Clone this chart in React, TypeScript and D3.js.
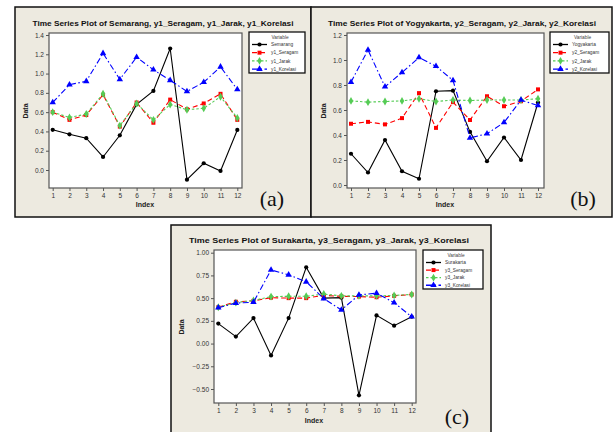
import React, { useRef, useEffect } from 'react';
import * as d3 from 'd3';

// ---- data ----
const indexes = [1, 2, 3, 4, 5, 6, 7, 8, 9, 10, 11, 12];

const semarang = [0.417, 0.37, 0.33, 0.135, 0.36, 0.68, 0.82, 1.26, -0.1, 0.07, -0.01, 0.415];
const y1Seragam = [0.6, 0.52, 0.57, 0.78, 0.45, 0.7, 0.49, 0.73, 0.63, 0.69, 0.79, 0.52];
const y1Jarak = [0.6, 0.545, 0.58, 0.79, 0.46, 0.69, 0.52, 0.68, 0.625, 0.64, 0.76, 0.54];
const y1Korelasi = [0.7, 0.885, 0.92, 1.21, 0.94, 1.17, 1.04, 0.93, 0.815, 0.91, 1.07, 0.835];

const yogyakarta = [0.25, 0.1, 0.36, 0.11, 0.05, 0.75, 0.755, 0.425, 0.19, 0.38, 0.2, 0.66];
const y2Seragam = [0.49, 0.505, 0.485, 0.535, 0.735, 0.457, 0.663, 0.52, 0.71, 0.63, 0.67, 0.765];
const y2Jarak = [0.673, 0.663, 0.668, 0.673, 0.69, 0.668, 0.68, 0.676, 0.68, 0.68, 0.68, 0.69];
const y2Korelasi = [0.823, 1.08, 0.786, 0.9, 1.02, 0.95, 0.837, 0.377, 0.41, 0.5, 0.68, 0.636];

const surakarta = [0.22, 0.077, 0.28, -0.13, 0.28, 0.84, 0.5, 0.505, -0.57, 0.31, 0.197, 0.295];
const y3Seragam = [0.4, 0.46, 0.47, 0.505, 0.5, 0.5, 0.53, 0.52, 0.517, 0.51, 0.525, 0.54];
const y3Jarak = [0.4, 0.45, 0.475, 0.517, 0.52, 0.52, 0.545, 0.525, 0.525, 0.525, 0.53, 0.54];
const y3Korelasi = [0.395, 0.445, 0.455, 0.81, 0.757, 0.68, 0.495, 0.37, 0.535, 0.555, 0.45, 0.295];

const yTicksA = [0.0, 0.2, 0.4, 0.6, 0.8, 1.0, 1.2, 1.4];
const yTicksB = [0.0, 0.2, 0.4, 0.6, 0.8, 1.0, 1.2];
const yTicksC = [-0.5, -0.25, 0, 0.25, 0.5, 0.75, 1.0];

// series styles (Minitab defaults)
const styles = [
  { color: '#000000', dash: null, symbol: d3.symbolCircle, size: 14 },
  { color: '#ff0000', dash: '5,3', symbol: d3.symbolSquare, size: 16 },
  { color: '#55cc55', dash: '2.5,2', symbol: d3.symbolDiamond, size: 18 },
  { color: '#0000ff', dash: '6,2.5,1.5,2.5', symbol: d3.symbolTriangle, size: 18 },
];

const panels = [
  {
    title: 'Time Series Plot of Semarang, y1_Seragam, y1_Jarak, y1_Korelasi',
    names: ['Semarang', 'y1_Seragam', 'y1_Jarak', 'y1_Korelasi'],
    series: [semarang, y1Seragam, y1Jarak, y1Korelasi],
    yTicks: yTicksA, fmt: '.1f', tag: '(a)',
    box: { x: 15, y: 7, w: 296, h: 210 },
    plot: { x0: 49, x1: 242, y0: 33, y1: 188 },
    xr: [52.7, 237.3], yd: [0, 1.4], yr: [170, 35],
    title_x: 163, title_y: 26, title_w: 261,
    legend: { x: 249, y: 32, w: 56, h: 41 },
    dataX: 28, dataY: 111, indexX: 145, indexY: 207, tagX: 272, tagY: 206,
  },
  {
    title: 'Time Series Plot of Yogyakarta, y2_Seragam, y2_Jarak, y2_Korelasi',
    names: ['Yogyakarta', 'y2_Seragam', 'y2_Jarak', 'y2_Korelasi'],
    series: [yogyakarta, y2Seragam, y2Jarak, y2Korelasi],
    yTicks: yTicksB, fmt: '.1f', tag: '(b)',
    box: { x: 311, y: 7, w: 301, h: 210 },
    plot: { x0: 347, x1: 544, y0: 33, y1: 188 },
    xr: [351, 538], yd: [0, 1.2], yr: [185, 35],
    title_x: 462, title_y: 26, title_w: 268,
    legend: { x: 550, y: 32, w: 59, h: 41 },
    dataX: 326, dataY: 111, indexX: 445, indexY: 207, tagX: 583, tagY: 206,
  },
  {
    title: 'Time Series Plot of Surakarta, y3_Seragam, y3_Jarak, y3_Korelasi',
    names: ['Surakarta', 'y3_Seragam', 'y3_Jarak', 'y3_Korelasi'],
    series: [surakarta, y3Seragam, y3Jarak, y3Korelasi],
    yTicks: yTicksC, fmt: '.2f', tag: '(c)',
    box: { x: 171, y: 225, w: 320, h: 215 },
    plot: { x0: 214, x1: 416, y0: 250, y1: 403 },
    xr: [218.3, 411.7], yd: [-0.5, 1.0], yr: [389, 252.7],
    title_x: 329, title_y: 243, title_w: 280,
    legend: { x: 423, y: 250, w: 60, h: 39 },
    dataX: 184, dataY: 327, indexX: 314, indexY: 423, tagX: 457, tagY: 424,
  },
];

const Panel = ({ p }: { p: any }) => {
  const xAxisRef = useRef<SVGGElement>(null);
  const yAxisRef = useRef<SVGGElement>(null);

  const x = d3.scaleLinear().domain([1, 12]).range(p.xr);
  const y = d3.scaleLinear().domain(p.yd).range(p.yr);

  useEffect(() => {
    const xa = d3.select(xAxisRef.current);
    xa.selectAll('*').remove();
    xa.call(d3.axisBottom(x).tickValues(indexes).tickFormat(d3.format('d')).tickSize(3).tickPadding(2));
    const ya = d3.select(yAxisRef.current);
    ya.selectAll('*').remove();
    ya.call(d3.axisLeft(y).tickValues(p.yTicks).tickFormat(d3.format(p.fmt)).tickSize(3).tickPadding(2));
    [xa, ya].forEach((a) => {
      a.select('.domain').remove();
      a.selectAll('line').attr('stroke', '#555');
      a.selectAll('text')
        .attr('fill', '#333')
        .style('font-family', '"Liberation Sans", Arial, sans-serif')
        .style('font-size', '6.5px');
    });
  }, []);

  const line = d3.line<number>().x((d, i) => x(indexes[i])).y((d) => y(d));
  const lg = p.legend;

  return (
    <g>
      <rect x={p.box.x} y={p.box.y} width={p.box.w} height={p.box.h} fill="#edeae0" stroke="#111" strokeWidth={1.5} />
      <text x={p.title_x} y={p.title_y} textAnchor="middle" textLength={p.title_w} lengthAdjust="spacingAndGlyphs"
        style={{ fontFamily: '"Liberation Sans", Arial, sans-serif', fontWeight: 'bold', fontSize: '8px' }} fill="#111">
        {p.title}
      </text>
      <rect x={p.plot.x0} y={p.plot.y0} width={p.plot.x1 - p.plot.x0} height={p.plot.y1 - p.plot.y0}
        fill="#fff" stroke="#555" strokeWidth={1.2} />
      <g ref={xAxisRef} transform={`translate(0,${p.plot.y1})`} />
      <g ref={yAxisRef} transform={`translate(${p.plot.x0},0)`} />
      {p.series.map((s: number[], k: number) => (
        <g key={k}>
          <path d={line(s) || ''} fill="none" stroke={styles[k].color} strokeWidth={1.1}
            strokeDasharray={styles[k].dash || undefined} />
          {s.map((v, i) => (
            <path key={i} transform={`translate(${x(indexes[i])},${y(v)})`}
              d={d3.symbol().type(styles[k].symbol).size(styles[k].size)() || ''} fill={styles[k].color} />
          ))}
        </g>
      ))}
      <text transform={`translate(${p.dataX},${p.dataY}) rotate(-90)`} textAnchor="middle"
        style={{ fontFamily: '"Liberation Sans", Arial, sans-serif', fontWeight: 'bold', fontSize: '7px' }} fill="#222">Data</text>
      <text x={p.indexX} y={p.indexY} textAnchor="middle"
        style={{ fontFamily: '"Liberation Sans", Arial, sans-serif', fontWeight: 'bold', fontSize: '7px' }} fill="#222">Index</text>
      <text x={p.tagX} y={p.tagY} textAnchor="middle"
        style={{ fontFamily: '"Liberation Serif", "Times New Roman", serif', fontSize: '22px' }} fill="#111">{p.tag}</text>
      <rect x={lg.x} y={lg.y} width={lg.w} height={lg.h} fill="#fff" stroke="#111" strokeWidth={1.3} />
      <text x={lg.x + lg.w / 2 + 3} y={lg.y + 7} textAnchor="middle"
        style={{ fontFamily: '"Liberation Sans", Arial, sans-serif', fontSize: '4.8px' }} fill="#444">Variable</text>
      {p.names.map((n: string, k: number) => {
        const ry = lg.y + 12.5 + k * (lg.h - 14) / 3.3;
        return (
          <g key={n}>
            <line x1={lg.x + 3} x2={lg.x + 18} y1={ry} y2={ry} stroke={styles[k].color} strokeWidth={1.3}
              strokeDasharray={styles[k].dash || undefined} />
            <path transform={`translate(${lg.x + 10.5},${ry})`}
              d={d3.symbol().type(styles[k].symbol).size(styles[k].size)() || ''} fill={styles[k].color} />
            <text x={lg.x + 22} y={ry + 1.7}
              style={{ fontFamily: '"Liberation Sans", Arial, sans-serif', fontSize: '4.8px' }} fill="#333">{n}</text>
          </g>
        );
      })}
    </g>
  );
};

export default function App() {
  return (
    <div style={{ position: 'absolute', left: 0, top: 0 }}>
      <svg width={614} height={432} style={{ display: 'block', background: '#fff' }}>
        {panels.map((p, i) => <Panel key={i} p={p} />)}
      </svg>
    </div>
  );
}
